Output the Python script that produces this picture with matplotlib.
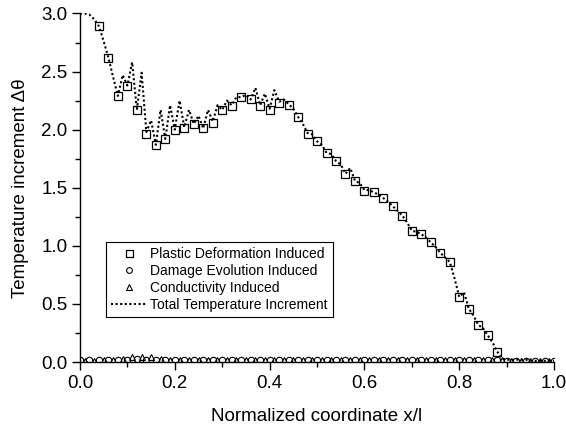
import numpy as np
import matplotlib
matplotlib.use("Agg")
import matplotlib.pyplot as plt
from matplotlib.ticker import MultipleLocator

# --- data ---
x_plastic = [0.04, 0.06, 0.08, 0.10, 0.12, 0.14, 0.16, 0.18, 0.20, 0.22,
             0.24, 0.26, 0.28, 0.30, 0.32, 0.34, 0.36, 0.38, 0.40, 0.42,
             0.44, 0.46, 0.48, 0.50, 0.52, 0.54, 0.56, 0.58, 0.60, 0.62,
             0.64, 0.66, 0.68, 0.70, 0.72, 0.74, 0.76, 0.78, 0.80, 0.82,
             0.84, 0.86, 0.88]
y_plastic = [2.89, 2.62, 2.29, 2.38, 2.17, 1.96, 1.87, 1.92, 2.00, 2.01,
             2.05, 2.01, 2.06, 2.17, 2.20, 2.28, 2.26, 2.20, 2.17, 2.23,
             2.21, 2.11, 1.96, 1.90, 1.80, 1.73, 1.62, 1.56, 1.47, 1.46,
             1.41, 1.34, 1.26, 1.13, 1.10, 1.03, 0.94, 0.86, 0.56, 0.46,
             0.32, 0.23, 0.09]

x_damage = [0.00, 0.02, 0.04, 0.06, 0.08, 0.10, 0.12, 0.14, 0.16, 0.18,
            0.20, 0.22, 0.24, 0.26, 0.28, 0.30, 0.32, 0.34, 0.36, 0.38,
            0.40, 0.42, 0.44, 0.46, 0.48, 0.50, 0.52, 0.54, 0.56, 0.58,
            0.60, 0.62, 0.64, 0.66, 0.68, 0.70, 0.72, 0.74, 0.76, 0.78,
            0.80, 0.82, 0.84, 0.86, 0.88, 0.90, 0.92, 0.94, 0.96, 0.98, 1.00]
y_damage = [0.02, 0.02, 0.02, 0.02, 0.02, 0.02, 0.03, 0.02, 0.02, 0.02,
            0.02, 0.02, 0.02, 0.02, 0.02, 0.02, 0.02, 0.02, 0.02, 0.02,
            0.02, 0.02, 0.02, 0.02, 0.02, 0.02, 0.02, 0.02, 0.02, 0.02,
            0.02, 0.02, 0.02, 0.02, 0.02, 0.02, 0.02, 0.02, 0.02, 0.02,
            0.02, 0.02, 0.02, 0.02, 0.02, 0.01, 0.01, 0.01, 0.01, 0.01, 0.01]

x_conduct = [0.01, 0.03, 0.05, 0.07, 0.09, 0.11, 0.13, 0.15, 0.17, 0.19,
             0.21, 0.23, 0.25, 0.27, 0.29, 0.31, 0.33, 0.35, 0.37, 0.39,
             0.41, 0.43, 0.45, 0.47, 0.49, 0.51, 0.53, 0.55, 0.57, 0.59,
             0.61, 0.63, 0.65, 0.67, 0.69, 0.71, 0.73, 0.75, 0.77, 0.79,
             0.81, 0.83, 0.85, 0.87, 0.89, 0.91, 0.93, 0.95, 0.97, 0.99]
y_conduct = [0.01, 0.01, 0.02, 0.02, 0.03, 0.04, 0.04, 0.04, 0.03, 0.02,
             0.02, 0.02, 0.02, 0.02, 0.02, 0.02, 0.02, 0.02, 0.02, 0.02,
             0.02, 0.02, 0.02, 0.02, 0.02, 0.02, 0.02, 0.02, 0.02, 0.02,
             0.02, 0.02, 0.02, 0.02, 0.02, 0.02, 0.02, 0.02, 0.02, 0.02,
             0.02, 0.02, 0.02, 0.02, 0.02, 0.01, 0.01, 0.01, 0.01, 0.01]

x_total = [0.00, 0.01, 0.02, 0.03, 0.04, 0.05, 0.06, 0.07, 0.08, 0.09,
           0.10, 0.11, 0.12, 0.13, 0.14, 0.15, 0.16, 0.17, 0.18, 0.19,
           0.20, 0.21, 0.22, 0.23, 0.24, 0.25, 0.26, 0.27, 0.28, 0.29,
           0.30, 0.31, 0.32, 0.33, 0.34, 0.35, 0.36, 0.37, 0.38, 0.39,
           0.40, 0.41, 0.42, 0.43, 0.44, 0.45, 0.46, 0.47, 0.48, 0.49,
           0.50, 0.51, 0.52, 0.53, 0.54, 0.55, 0.56, 0.57, 0.58, 0.59,
           0.60, 0.61, 0.62, 0.63, 0.64, 0.65, 0.66, 0.67, 0.68, 0.69,
           0.70, 0.71, 0.72, 0.73, 0.74, 0.75, 0.76, 0.77, 0.78, 0.79,
           0.80, 0.81, 0.82, 0.83, 0.84, 0.85, 0.86, 0.87, 0.88, 0.89,
           0.90, 0.92, 0.94, 0.96, 0.98, 1.00]
y_total = [3.00, 3.00, 2.99, 2.95, 2.89, 2.76, 2.62, 2.45, 2.29, 2.47,
           2.38, 2.58, 2.17, 2.49, 1.98, 2.08, 1.87, 2.17, 1.92, 2.21,
           2.00, 2.25, 2.02, 2.17, 2.05, 2.12, 2.01, 2.17, 2.07, 2.21,
           2.17, 2.25, 2.21, 2.28, 2.28, 2.30, 2.26, 2.36, 2.21, 2.31,
           2.18, 2.34, 2.24, 2.26, 2.22, 2.18, 2.11, 2.05, 1.97, 1.96,
           1.90, 1.87, 1.80, 1.79, 1.73, 1.70, 1.62, 1.67, 1.56, 1.54,
           1.48, 1.48, 1.46, 1.44, 1.41, 1.38, 1.34, 1.30, 1.26, 1.20,
           1.13, 1.12, 1.10, 1.07, 1.03, 0.99, 0.94, 0.90, 0.86, 0.72,
           0.56, 0.60, 0.46, 0.40, 0.32, 0.29, 0.23, 0.17, 0.09, 0.03,
           0.02, 0.02, 0.02, 0.01, 0.01, 0.01]

plt.rcParams['font.family'] = ['Liberation Sans', 'DejaVu Sans']

fig = plt.figure(figsize=(5.66, 4.32), dpi=100)
ax = fig.add_axes([0.1413, 0.162, 0.8377, 0.8068])

ax.plot(x_plastic, y_plastic, linestyle='none', marker='s', markersize=5.6,
        markerfacecolor='none', markeredgecolor='black', markeredgewidth=0.9,
        label='Plastic Deformation Induced', zorder=3)
ax.plot(x_damage, y_damage, linestyle='none', marker='o', markersize=4.6,
        markerfacecolor='none', markeredgecolor='black', markeredgewidth=0.8,
        label='Damage Evolution Induced', zorder=3)
ax.plot(x_conduct, y_conduct, linestyle='none', marker='^', markersize=5,
        markerfacecolor='none', markeredgecolor='black', markeredgewidth=0.8,
        label='Conductivity Induced', zorder=3)
ax.plot(x_total, y_total, linestyle=(0, (1, 1.2)), color='black', linewidth=1.5,
        label='Total Temperature Increment', zorder=4)

ax.set_xlim(0, 1.0)
ax.set_ylim(0, 3.0)
ax.spines['top'].set_visible(False)
ax.spines['right'].set_visible(False)
for s in ['left', 'bottom']:
    ax.spines[s].set_linewidth(1.0)

ax.xaxis.set_major_locator(MultipleLocator(0.2))
ax.xaxis.set_minor_locator(MultipleLocator(0.1))
ax.yaxis.set_major_locator(MultipleLocator(0.5))
ax.yaxis.set_minor_locator(MultipleLocator(0.25))
ax.xaxis.set_major_formatter(plt.FormatStrFormatter('%.1f'))
ax.yaxis.set_major_formatter(plt.FormatStrFormatter('%.1f'))
ax.tick_params(which='major', direction='out', length=6, width=1.0,
               labelsize=13.5, pad=3)
ax.tick_params(which='minor', direction='out', length=3.5, width=1.0)

ax.set_xlabel('Normalized coordinate x/l', fontsize=13.5, labelpad=12)
ax.set_ylabel('Temperature increment Δθ', fontsize=13.5, labelpad=9)

leg = ax.legend(loc='lower left', bbox_to_anchor=(0.055, 0.129), fontsize=10,
                frameon=True, fancybox=False, edgecolor='black', framealpha=1,
                numpoints=1, handlelength=2.6, handletextpad=0.25,
                borderpad=0.35, labelspacing=0.22, markerscale=0.9,
                borderaxespad=0)
leg.get_frame().set_linewidth(0.8)

fig.savefig('out.png', dpi=100)
